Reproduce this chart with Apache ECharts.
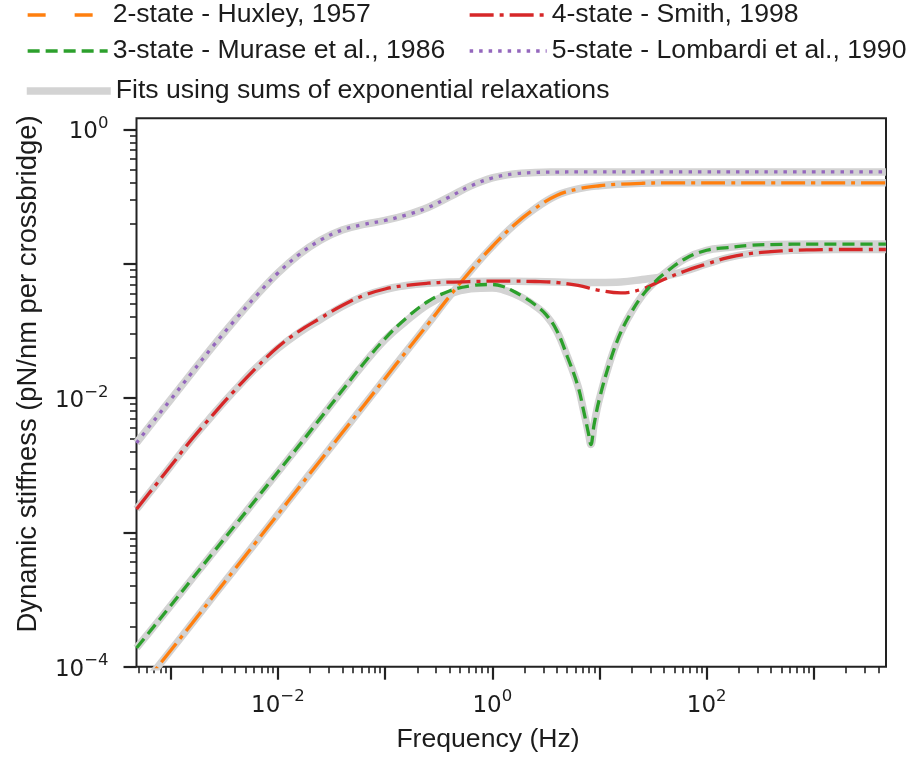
<!DOCTYPE html>
<html><head><meta charset="utf-8">
<script src="https://cdn.jsdelivr.net/npm/echarts@6/dist/echarts.min.js"></script>
<style>html,body{margin:0;padding:0;background:#fff}#c{width:908px;height:757px}</style>
</head><body><div id="c"></div>
<script>
// ---------- data (frequency in Hz, dynamic stiffness in pN/nm per crossbridge) ----------
const freqs = [4.8e-4, 6.31e-4, 1e-3, 1.58e-3, 2.51e-3, 3.98e-3, 6.31e-3, 0.01, 0.0158, 0.0251, 0.0398, 0.0631,
  0.1, 0.158, 0.251, 0.398, 0.631, 1, 1.58, 2.51, 3.98, 6.31, 10, 15.8, 25.1, 39.8, 63.1, 100, 158, 251, 398, 631,
  1000, 1585, 2512, 4700];
const huxley = [6.3e-5, 8.3e-5, 1.32e-4, 2.10e-4, 3.36e-4, 5.35e-4, 8.54e-4, 1.36e-3, 2.17e-3, 3.46e-3, 5.51e-3, 8.78e-3,
  1.40e-2, 2.23e-2, 3.55e-2, 5.70e-2, 8.91e-2, 0.1344, 0.1927, 0.258, 0.3223, 0.3604, 0.3807, 0.3914, 0.3973, 0.400,
  0.4002, 0.4002, 0.4002, 0.4002, 0.4002, 0.4002, 0.4002, 0.4002, 0.4002, 0.4002];
const huxleyFit = [6.3e-5, 8.3e-5, 1.32e-4, 2.10e-4, 3.36e-4, 5.35e-4, 8.54e-4, 1.36e-3, 2.17e-3, 3.46e-3, 5.51e-3, 8.78e-3,
  1.40e-2, 2.23e-2, 3.55e-2, 5.70e-2, 8.91e-2, 0.1344, 0.1927, 0.258, 0.3223, 0.3604, 0.3807, 0.3914, 0.3973, 0.400,
  0.4002, 0.4002, 0.4002, 0.4002, 0.4002, 0.4002, 0.4002, 0.4002, 0.4002, 0.4002];
const smith = [1.490e-3, 1.961e-3, 3.115e-3, 4.951e-3, 7.60e-3, 1.147e-2, 1.688e-2, 2.398e-2, 3.155e-2, 3.944e-2,
  4.887e-2, 5.80e-2, 6.484e-2, 6.91e-2, 7.163e-2, 7.30e-2, 7.375e-2, 7.413e-2, 7.413e-2, 7.375e-2, 7.25e-2, 6.89e-2,
  6.34e-2, 6.065e-2, 6.484e-2, 7.63e-2, 8.83e-2, 9.96e-2, 0.111, 0.119, 0.123, 0.126, 0.127, 0.1277, 0.1277, 0.1277];
const smithFit = [1.490e-3, 1.961e-3, 3.115e-3, 4.951e-3, 7.60e-3, 1.147e-2, 1.688e-2, 2.34e-2, 3.07e-2, 3.86e-2,
  4.80e-2, 5.72e-2, 6.43e-2, 6.88e-2, 7.163e-2, 7.30e-2, 7.375e-2, 7.413e-2, 7.413e-2, 7.375e-2, 7.31e-2, 7.25e-2,
  7.25e-2, 7.31e-2, 7.63e-2, 8.04e-2, 8.83e-2, 9.96e-2, 0.111, 0.119, 0.123, 0.126, 0.127, 0.1277, 0.1277, 0.1277];
const lombardi = [4.637e-3, 6.133e-3, 9.745e-3, 1.548e-2, 2.460e-2, 3.811e-2, 5.80e-2, 8.53e-2, 0.1172, 0.1502, 0.1784,
  0.1961, 0.2100, 0.2307, 0.2624, 0.3142, 0.3795, 0.4351, 0.4661, 0.4782, 0.4815, 0.4823, 0.4823, 0.4823, 0.4823,
  0.4823, 0.4823, 0.4823, 0.4823, 0.4823, 0.4823, 0.4823, 0.4823, 0.4823, 0.4823, 0.4823];
const lombardiFit = [4.637e-3, 6.133e-3, 9.745e-3, 1.548e-2, 2.460e-2, 3.811e-2, 5.80e-2, 8.53e-2, 0.1172, 0.1502, 0.1784,
  0.1961, 0.2100, 0.2307, 0.2624, 0.3142, 0.3795, 0.4351, 0.4661, 0.4782, 0.4815, 0.4823, 0.4823, 0.4823, 0.4823,
  0.4823, 0.4823, 0.4823, 0.4823, 0.4823, 0.4823, 0.4823, 0.4823, 0.4823, 0.4823, 0.4823];
const freqsMurase = [4.8e-4, 6.31e-4, 1e-3, 1.58e-3, 2.51e-3, 3.98e-3, 6.31e-3, 0.01, 0.0158, 0.0251, 0.0398, 0.0631,
  0.1, 0.158, 0.251, 0.398, 0.631, 1, 1.26, 1.58, 2.0, 2.51, 3.16, 3.98, 5.01, 6.31, 7.08, 7.94, 8.32, 8.91, 10, 12.6,
  15.8, 20.0, 25.1, 31.6, 39.8, 63.1, 100, 158, 251, 398, 1000, 4700];
const murase = [1.378e-4, 1.804e-4, 2.847e-4, 4.499e-4, 7.125e-4, 1.125e-3, 1.781e-3, 2.811e-3, 4.443e-3, 7.12e-3,
  1.137e-2, 1.807e-2, 2.774e-2, 3.944e-2, 5.234e-2, 6.266e-2, 6.85e-2, 7.005e-2, 6.77e-2, 6.24e-2, 5.6e-2, 4.95e-2,
  4.2e-2, 3.2e-2, 2.04e-2, 1.22e-2, 8.2e-3, 5.35e-3, 4.51e-3, 6.35e-3, 9.9e-3, 1.89e-2, 3.08e-2, 4.4e-2, 5.8e-2,
  7.1e-2, 8.4e-2, 0.109, 0.126, 0.132, 0.137, 0.139, 0.140, 0.140];
const muraseFit = [1.378e-4, 1.804e-4, 2.847e-4, 4.499e-4, 7.125e-4, 1.125e-3, 1.781e-3, 2.811e-3, 4.443e-3, 7.12e-3,
  1.137e-2, 1.79e-2, 2.72e-2, 3.75e-2, 4.97e-2, 5.95e-2, 6.5e-2, 6.6e-2, 6.4e-2, 6.0e-2, 5.46e-2, 4.85e-2,
  4.15e-2, 3.17e-2, 2.04e-2, 1.22e-2, 8.2e-3, 5.35e-3, 4.51e-3, 6.35e-3, 9.9e-3, 1.89e-2, 3.08e-2, 4.4e-2, 5.8e-2,
  7.1e-2, 8.4e-2, 0.109, 0.126, 0.132, 0.137, 0.139, 0.140, 0.140];

// axis ranges and ticks
const xRange = [4.8e-4, 4.71e3];
const yRange = [1e-4, 1.21];
const xMajorTicks = [1e-3, 1e-2, 1e-1, 1, 10, 100, 1000];
const xTickLabels = [1e-2, 1, 100];
const yMajorTicks = [1e-4, 1e-3, 1e-2, 1e-1, 1];
const yTickLabels = [1e-4, 1e-2, 1];
const minorMult = [2, 3, 4, 5, 6, 7, 8, 9];
const decades = [-4, -3, -2, -1, 0, 1, 2, 3];

const NAMES = {
  hux: '2-state - Huxley, 1957', smith: '4-state - Smith, 1998',
  mur: '3-state - Murase et al., 1986', lom: '5-state - Lombardi et al., 1990',
  fit: 'Fits using sums of exponential relaxations'
};
const X_NAME = 'Frequency (Hz)';
const Y_NAME = 'Dynamic stiffness (pN/nm per crossbridge)';

// ---------- build ----------
const lg = v => Math.log10(v);
const pts = (fs, vs) => fs.map((f, i) => [lg(f), lg(vs[i])]);
function minorTicks(range) {
  const out = [];
  decades.forEach(d => minorMult.forEach(m => {
    const v = m * Math.pow(10, d);
    if (v > range[0] && v < range[1]) out.push(lg(v));
  }));
  return out;
}
const TXT = '#1c1c1c';
const AX = '#222';
const TICKFONT = 'DejaVu Sans';
const FONT = 'Liberation Sans';
const FS = 26.6;
const supFmt = v => {
  const e = Math.round(v);
  return '{b|10}{s|' + (e < 0 ? '\u2212' + (-e) : e) + '}';
};
const rich = {
  b: {fontFamily: TICKFONT, fontSize: 23, color: TXT, lineHeight: 34, verticalAlign: 'middle'},
  s: {fontFamily: TICKFONT, fontSize: 16.5, color: TXT, lineHeight: 19, verticalAlign: 'top'}
};
const axisCommon = (range) => ({
  type: 'value', min: lg(range[0]), max: lg(range[1]), splitLine: {show: false},
  axisLine: {show: false, onZero: false}
});

const gray = '#d3d3d3';
const SMOOTH = 0.4;
function fitSeries(fs, vs) {
  return {type: 'line', name: NAMES.fit, data: pts(fs, vs), symbol: 'none', smooth: SMOOTH, z: 2,
    lineStyle: {color: gray, width: 7.5, cap: 'butt', join: 'round'}, itemStyle: {color: gray}};
}
function modelSeries(name, fs, vs, color, dash) {
  return {type: 'line', name, data: pts(fs, vs), symbol: 'none', smooth: SMOOTH, z: 3,
    lineStyle: {color, width: 3.3, type: dash, cap: 'butt'}, itemStyle: {color}};
}
const DASHDOT = [24, 6, 4, 6], DASHED = [12, 6], DOTTED = [3.5, 6];
const C = {hux: '#ff7f0e', smith: '#d62728', mur: '#2ca02c', lom: '#9467bd'};

function legendAt(left, top, width, name, lineStyle) {
  return {
    left, top, padding: 0, itemWidth: width, itemHeight: 14, selectedMode: false, orient: 'horizontal',
    textStyle: {fontFamily: FONT, fontSize: FS, color: TXT, lineHeight: 28},
    data: [{name, lineStyle, itemStyle: {color: 'rgba(0,0,0,0)', borderWidth: 0, borderColor: 'rgba(0,0,0,0)'}}]
  };
}

const option = {
  animation: false,
  backgroundColor: '#fff',
  grid: {left: 136.5, right: 22, top: 118.3, bottom: 90.3, show: true, borderColor: AX, borderWidth: 2,
    backgroundColor: 'rgba(0,0,0,0)', containLabel: false, outerBoundsMode: 'none'},
  legend: [
    legendAt(26, 1, 80, NAMES.hux, {color: C.hux, width: 3.3, type: [18, 29]}),
    legendAt(468, 1, 77, NAMES.smith, {color: C.smith, width: 3.3, type: DASHDOT}),
    legendAt(26, 37, 80, NAMES.mur, {color: C.mur, width: 3.3, type: DASHED}),
    legendAt(468, 37, 77, NAMES.lom, {color: C.lom, width: 3.3, type: DOTTED}),
    legendAt(23, 77, 84, NAMES.fit, {color: gray, width: 7.5, type: 'solid'})
  ],
  xAxis: [
    Object.assign(axisCommon(xRange), {
      position: 'bottom',
      axisTick: {show: true, inside: false, length: 13, lineStyle: {color: AX, width: 2.2}, customValues: xMajorTicks.map(lg)},
      axisLabel: {show: true, margin: 22, customValues: xTickLabels.map(lg), formatter: supFmt, rich}
    }),
    Object.assign(axisCommon(xRange), {
      position: 'bottom',
      axisTick: {show: true, inside: false, length: 6.5, lineStyle: {color: AX, width: 1.6}, customValues: minorTicks(xRange)},
      axisLabel: {show: false}
    })
  ],
  yAxis: [
    Object.assign(axisCommon(yRange), {
      position: 'left',
      axisTick: {show: true, inside: false, length: 13, lineStyle: {color: AX, width: 2.2}, customValues: yMajorTicks.map(lg)},
      axisLabel: {show: true, margin: 28, padding: [6, 0, 0, 0], customValues: yTickLabels.map(lg), formatter: supFmt, rich}
    }),
    Object.assign(axisCommon(yRange), {
      position: 'left',
      axisTick: {show: true, inside: false, length: 6.5, lineStyle: {color: AX, width: 1.6}, customValues: minorTicks(yRange)},
      axisLabel: {show: false}
    })
  ],
  graphic: [
    {type: 'text', x: 488, y: 740, style: {text: X_NAME, fontFamily: FONT, fontSize: FS, fill: TXT,
      align: 'center', verticalAlign: 'middle'}},
    {type: 'text', x: 28, y: 374, rotation: Math.PI / 2, style: {text: Y_NAME,
      fontFamily: FONT, fontSize: 27.4, fill: TXT, align: 'center', verticalAlign: 'middle'}}
  ],
  series: [
    fitSeries(freqs, huxleyFit),
    fitSeries(freqsMurase, muraseFit),
    fitSeries(freqs, smithFit),
    fitSeries(freqs, lombardiFit),
    modelSeries(NAMES.hux, freqs, huxley, C.hux, DASHDOT),
    modelSeries(NAMES.smith, freqs, smith, C.smith, DASHDOT),
    modelSeries(NAMES.mur, freqsMurase, murase, C.mur, DASHED),
    modelSeries(NAMES.lom, freqs, lombardi, C.lom, DOTTED)
  ]
};
const chart = echarts.init(document.getElementById('c'));
chart.setOption(option);
</script>
</body></html>
